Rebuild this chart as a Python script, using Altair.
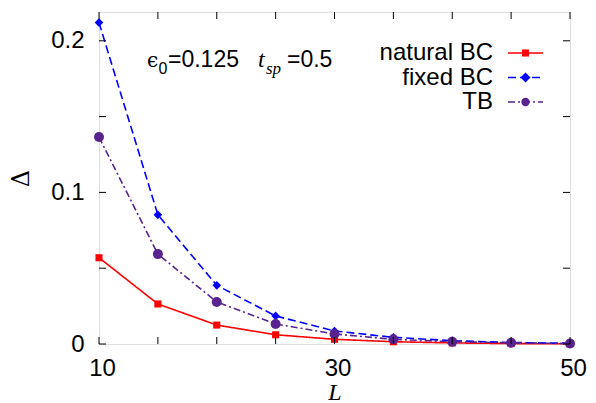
import altair as alt
import pandas as pd

L = [10, 15, 20, 25, 30, 35, 40, 45, 50]
natural_bc = [0.0569, 0.0264, 0.0125, 0.0061, 0.0031, 0.0015, 0.0007, 0.0003, 0.0001]
fixed_bc = [0.212, 0.0852, 0.0387, 0.0185, 0.0086, 0.0044, 0.0022, 0.0010, 0.0005]
tb = [0.1365, 0.0593, 0.0277, 0.0132, 0.0066, 0.0031, 0.0015, 0.0008, 0.0003]
series = ["natural BC", "fixed BC", "TB"]
colors = ["#ff0000", "#0000ff", "#58228f"]
dashes = [[1, 0], [8, 4], [7, 3, 2, 3]]
shapes = ["square", "diamond", "circle"]
sizes = [50, 100, 70]
x_ticks = [10, 15, 20, 25, 30, 35, 40, 45, 50]
x_labels = [10, 30, 50]
y_ticks = [0, 0.05, 0.1, 0.15, 0.2]
y_labels = [0, 0.1, 0.2]

W, H = 471, 332
FS = 24

rows = []
for name, vals in zip(series, [natural_bc, fixed_bc, tb]):
    for l, v in zip(L, vals):
        rows.append({"L": l, "D": v, "series": name})
df = pd.DataFrame(rows)

xs = alt.Scale(domain=[10, 50], nice=False)
ys = alt.Scale(domain=[0, 0.219], nice=False)
cs = alt.Scale(domain=series, range=colors)

xaxis = alt.Axis(values=x_labels, ticks=False, tickSize=0, domain=False, grid=False,
                 labelFlush=False, labelOffset=3,
                 labelFontSize=FS, labelFont="Liberation Sans", labelColor="black",
                 labelPadding=12, title="L", titleFont="Liberation Serif",
                 titleFontStyle="italic", titleFontWeight="normal", titleFontSize=FS,
                 titleColor="black", titlePadding=0)
yaxis = alt.Axis(values=y_labels, ticks=False, tickSize=0, domain=False, grid=False,
                 labelFlush=False, format="~g", labelFontSize=FS, labelFont="Liberation Sans",
                 labelColor="black", labelPadding=15, title="Δ",
                 titleFont="DejaVu Serif", titleFontWeight="normal", titleFontSize=FS,
                 titleColor="black", titlePadding=17)

lines = alt.Chart(df).mark_line(strokeWidth=1.6).encode(
    x=alt.X("L:Q", scale=xs, axis=xaxis),
    y=alt.Y("D:Q", scale=ys, axis=yaxis),
    color=alt.Color("series:N", scale=cs, legend=None),
    strokeDash=alt.StrokeDash("series:N", scale=alt.Scale(domain=series, range=dashes), legend=None),
    order=alt.Order("L:Q"),
)
pts = alt.Chart(df).mark_point(filled=True, opacity=1).encode(
    x=alt.X("L:Q", scale=xs),
    y=alt.Y("D:Q", scale=ys),
    color=alt.Color("series:N", scale=cs, legend=None),
    shape=alt.Shape("series:N", scale=alt.Scale(domain=series, range=shapes), legend=None),
    size=alt.Size("series:N", scale=alt.Scale(domain=series, range=sizes), legend=None),
)

tdf_x = pd.DataFrame({"v": x_ticks})
tdf_y = pd.DataFrame({"v": y_ticks})
tick_b = alt.Chart(tdf_x).mark_rule(color="black", strokeWidth=1).encode(
    x=alt.X("v:Q", scale=xs), y=alt.value(H), y2=alt.value(H - 7))
tick_t = alt.Chart(tdf_x).mark_rule(color="black", strokeWidth=1).encode(
    x=alt.X("v:Q", scale=xs), y=alt.value(0), y2=alt.value(7))
tick_l = alt.Chart(tdf_y).mark_rule(color="black", strokeWidth=1).encode(
    y=alt.Y("v:Q", scale=ys), x=alt.value(0), x2=alt.value(7))
tick_r = alt.Chart(tdf_y).mark_rule(color="black", strokeWidth=1).encode(
    y=alt.Y("v:Q", scale=ys), x=alt.value(W), x2=alt.value(W - 7))

# annotation (pixel layout within the plot area; plot left=99, top=12 on page)
def txt(s, x, y, size=FS, font="Liberation Sans", style="normal", align="left"):
    return alt.Chart(pd.DataFrame({"t": [s]})).mark_text(
        align=align, baseline="alphabetic", fontSize=size, font=font,
        fontStyle=style, color="black").encode(
        text="t:N", x=alt.value(x), y=alt.value(y))

ann = [
    txt("ϵ", 48, 55, size=20, font="DejaVu Serif"),
    txt("0", 59.5, 62, size=16),
    txt("=0.125", 69, 55, size=23),
    txt("t", 159, 55, font="Liberation Serif", style="italic"),
    txt("sp", 167, 62, size=17, font="Liberation Serif", style="italic"),
    txt("=0.5", 188, 55, size=23),
]

# legend
leg = []
for i, (name, c, d, s, z) in enumerate(zip(series, colors, dashes, shapes, sizes)):
    yy = 41 + 24.5 * i
    one = pd.DataFrame({"t": [name]})
    leg.append(alt.Chart(one).mark_text(align="right", baseline="middle", fontSize=FS,
                                        font="Liberation Sans", color="black").encode(
        text="t:N", x=alt.value(394), y=alt.value(yy)))
    leg.append(alt.Chart(one).mark_rule(color=c, strokeWidth=1.6, strokeDash=d).encode(
        x=alt.value(409), x2=alt.value(444), y=alt.value(yy)))
    leg.append(alt.Chart(one).mark_point(color=c, filled=True, opacity=1, size=z, shape=s).encode(
        x=alt.value(426.5), y=alt.value(yy)))

chart = alt.layer(lines, pts, tick_b, tick_t, tick_l, tick_r, *ann, *leg).properties(
    width=W, height=H,
    autosize=alt.AutoSizeParams(type="none"),
    padding={"left": 91, "top": 4, "right": 18, "bottom": 59},
).configure_view(stroke="black", strokeWidth=1.5).configure(background="white")

chart.save("out.html", embed_options={"renderer": "svg", "actions": False})
